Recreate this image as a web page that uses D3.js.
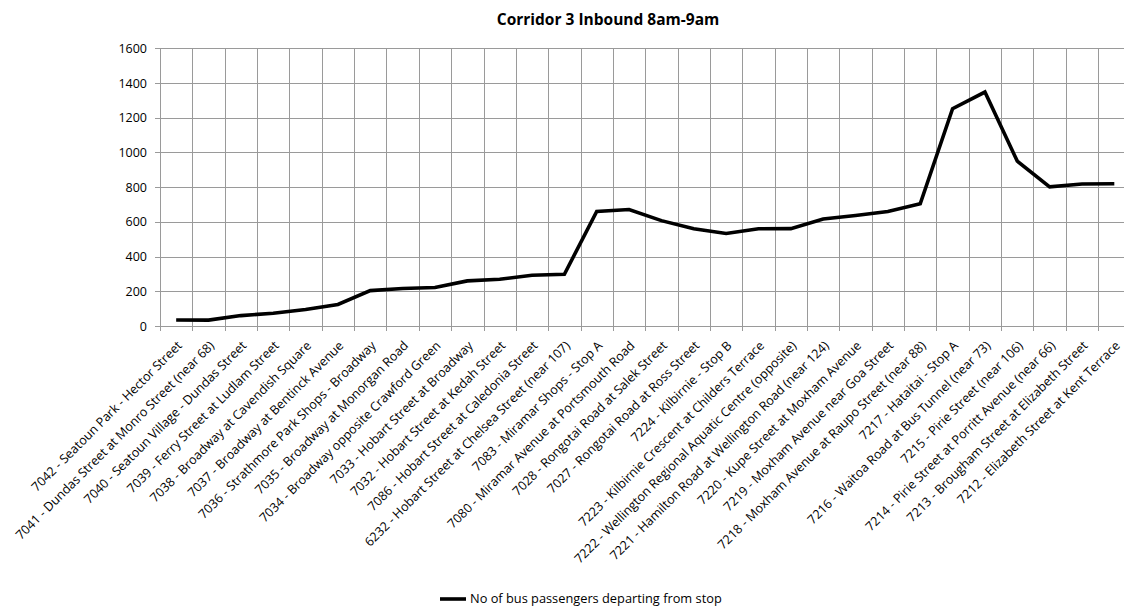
<!DOCTYPE html>
<html>
<head>
<meta charset="utf-8">
<script src="https://cdn.jsdelivr.net/npm/d3@7"></script>
<style>
  html, body { margin: 0; padding: 0; background: #fff; }
  svg { display: block; }
  text { font-family: "Open Sans", "Liberation Sans", sans-serif; fill: #000; }
</style>
</head>
<body>
<svg id="chart" width="1124" height="610"></svg>
<script>
const title = "Corridor 3 Inbound 8am-9am";
const seriesName = "No of bus passengers departing from stop";
const categories = [
  "7042 - Seatoun Park - Hector Street",
  "7041 - Dundas Street at Monro Street (near 68)",
  "7040 - Seatoun Village - Dundas Street",
  "7039 - Ferry Street at Ludlam Street",
  "7038 - Broadway at Cavendish Square",
  "7037 - Broadway at Bentinck Avenue",
  "7036 - Strathmore Park Shops - Broadway",
  "7035 - Broadway at Monorgan Road",
  "7034 - Broadway opposite Crawford Green",
  "7033 - Hobart Street at Broadway",
  "7032 - Hobart Street at Kedah Street",
  "7086 - Hobart Street at Caledonia Street",
  "6232 - Hobart Street at Chelsea Street (near 107)",
  "7083 - Miramar Shops - Stop A",
  "7080 - Miramar Avenue at Portsmouth Road",
  "7028 - Rongotai Road at Salek Street",
  "7027 - Rongotai Road at Ross Street",
  "7224 - Kilbirnie - Stop B",
  "7223 - Kilbirnie Crescent at Childers Terrace",
  "7222 - Wellington Regional Aquatic Centre (opposite)",
  "7221 - Hamilton Road at Wellington Road (near 124)",
  "7220 - Kupe Street at Moxham Avenue",
  "7219 - Moxham Avenue near Goa Street",
  "7218 - Moxham Avenue at Raupo Street (near 88)",
  "7217 - Hataitai - Stop A",
  "7216 - Waitoa Road at Bus Tunnel (near 73)",
  "7215 - Pirie Street (near 106)",
  "7214 - Pirie Street at Porritt Avenue (near 66)",
  "7213 - Brougham Street at Elizabeth Street",
  "7212 - Elizabeth Street at Kent Terrace"
];
const passengers = [35, 34, 60, 73, 95, 124, 204, 216, 222, 260, 269, 292, 298, 660, 671, 607, 560, 533, 560, 561, 617, 637, 660, 704, 1252, 1348, 950, 802, 818, 820];
const yTicks = [0, 200, 400, 600, 800, 1000, 1200, 1400, 1600];

const svg = d3.select("#chart");
const plotLeft = 160, plotTop = 48.3, plotBottom = 326;
const band = 32.35;
const plotRight = plotLeft + band * categories.length;

const x = d3.scaleBand().domain(categories).range([plotLeft, plotRight]).paddingInner(0).paddingOuter(0);
const y = d3.scaleLinear().domain([0, 1600]).range([plotBottom, plotTop]);

const gridColor = "#9a9a9a";

// horizontal gridlines
svg.append("g").selectAll("line").data(yTicks).join("line")
  .attr("x1", plotLeft).attr("x2", plotRight)
  .attr("y1", d => Math.round(y(d)) + 0.5).attr("y2", d => Math.round(y(d)) + 0.5)
  .attr("stroke", gridColor).attr("stroke-width", 1);

// vertical gridlines at category boundaries (with tick marks below axis)
const bounds = categories.map(c => x(c)).concat([plotRight]);
svg.append("g").selectAll("line").data(bounds).join("line")
  .attr("x1", d => Math.round(d) + 0.5).attr("x2", d => Math.round(d) + 0.5)
  .attr("y1", plotTop).attr("y2", plotBottom + 5)
  .attr("stroke", gridColor).attr("stroke-width", 1);

// y tick marks
svg.append("g").selectAll("line").data(yTicks).join("line")
  .attr("x1", plotLeft - 5).attr("x2", plotLeft)
  .attr("y1", d => Math.round(y(d)) + 0.5).attr("y2", d => Math.round(y(d)) + 0.5)
  .attr("stroke", gridColor).attr("stroke-width", 1);

// y labels
svg.append("g").selectAll("text").data(yTicks).join("text")
  .attr("x", 147).attr("y", d => y(d))
  .attr("dy", "0.36em")
  .attr("text-anchor", "end")
  .attr("font-size", "12.5px")
  .attr("fill", "#222")
  .text(d => d);

// category labels
svg.append("g").selectAll("text").data(categories).join("text")
  .attr("transform", d => `translate(${x(d) + x.bandwidth() / 2},340) rotate(-45)`)
  .attr("dy", "0.72em")
  .attr("text-anchor", "end")
  .attr("font-size", "12.6px")
  .text(d => d);

// line
const line = d3.line()
  .x((d, i) => x(categories[i]) + x.bandwidth() / 2)
  .y(d => y(d));
svg.append("path").datum(passengers)
  .attr("d", line)
  .attr("fill", "none")
  .attr("stroke", "#000")
  .attr("stroke-width", 3.6)
  .attr("stroke-linejoin", "miter");

// title
svg.append("text")
  .attr("x", 608).attr("y", 25)
  .attr("text-anchor", "middle")
  .attr("font-size", "15.5px")
  .attr("font-weight", "bold")
  .text(title);

// legend
const lg = svg.append("g");
lg.append("line").attr("x1", 440).attr("x2", 466).attr("y1", 599).attr("y2", 599)
  .attr("stroke", "#000").attr("stroke-width", 3.6);
lg.append("text").attr("x", 470).attr("y", 599).attr("dy", "0.35em")
  .attr("font-size", "12.8px").text(seriesName);
</script>
</body>
</html>
